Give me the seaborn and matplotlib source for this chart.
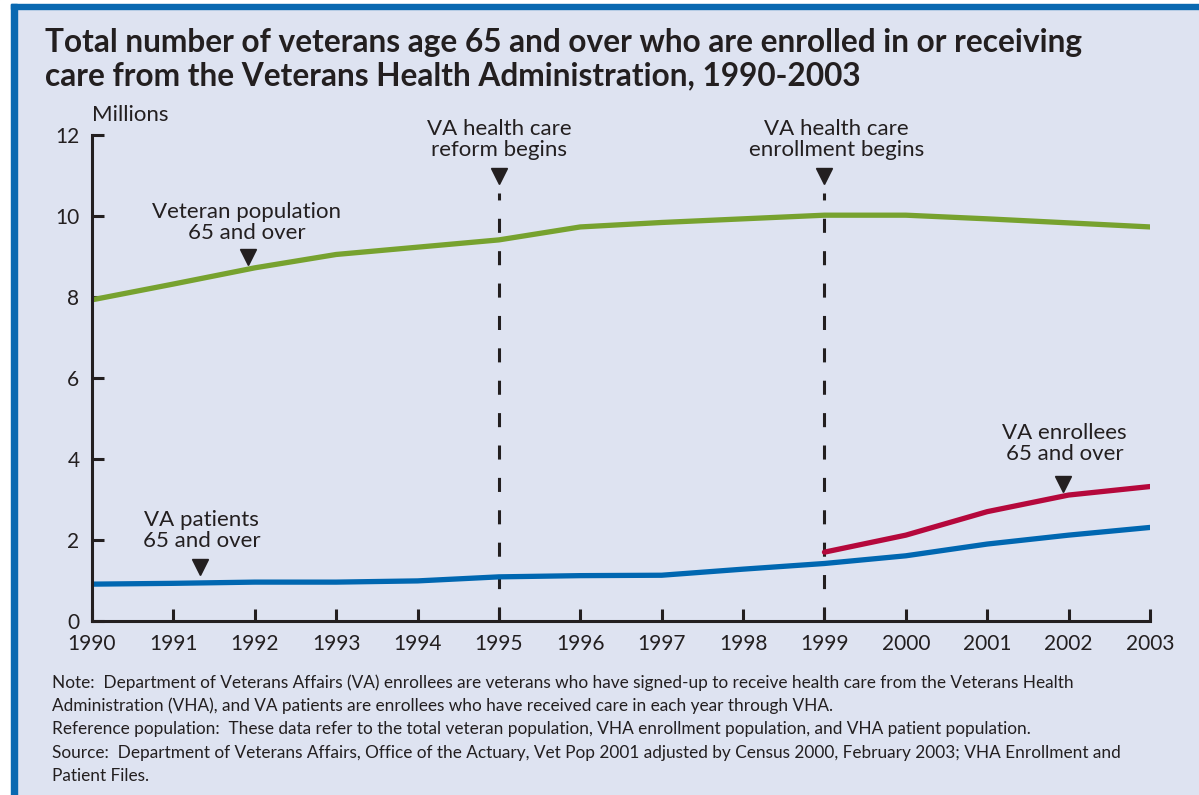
import pandas as pd
import matplotlib.pyplot as plt
from matplotlib.patches import Rectangle
import seaborn as sns

years = [1990, 1991, 1992, 1993, 1994, 1995, 1996, 1997, 1998, 1999, 2000, 2001, 2002, 2003]
veteran_pop = [7.93, 8.32, 8.72, 9.05, 9.23, 9.41, 9.73, 9.84, 9.93, 10.02, 10.02, 9.93, 9.83, 9.73]
va_patients = [0.91, 0.93, 0.96, 0.96, 0.99, 1.09, 1.12, 1.13, 1.28, 1.42, 1.61, 1.90, 2.12, 2.31]
enroll_years = [1999, 2000, 2001, 2002, 2003]
va_enrollees = [1.70, 2.12, 2.70, 3.11, 3.32]
y_ticks = [0, 2, 4, 6, 8, 10, 12]

title = ('Total number of veterans age 65 and over who are enrolled in or receiving\n'
         'care from the Veterans Health Administration, 1990-2003')
notes = [
    'Note:  Department of Veterans Affairs (VA) enrollees are veterans who have signed-up to receive health care from the Veterans Health',
    'Administration (VHA), and VA patients are enrollees who have received care in each year through VHA.',
    'Reference population:  These data refer to the total veteran population, VHA enrollment population, and VHA patient population.',
    'Source:  Department of Veterans Affairs, Office of the Actuary, Vet Pop 2001 adjusted by Census 2000, February 2003; VHA Enrollment and',
    'Patient Files.',
]

BG = '#dee3f1'
INK = '#231f20'
GREEN = '#77a22f'
BLUE = '#0067b1'
RED = '#b5083c'
LBL = 16

sns.set_style('ticks')
plt.rcParams['font.family'] = ['Lato', 'DejaVu Sans']
plt.rcParams['text.color'] = INK

fig = plt.figure(figsize=(11.99, 7.95), dpi=100, facecolor=BG)
W, H = 1199, 795
# frame: white margin, blue band on left and top
fig.patches.append(Rectangle((0, 0), 11 / W, 1, transform=fig.transFigure, color='white', zorder=0))
fig.patches.append(Rectangle((0, 1 - 4 / H), 1, 4 / H, transform=fig.transFigure, color='white', zorder=0))
fig.patches.append(Rectangle((11 / W, 0), 6 / W, 1 - 4 / H, transform=fig.transFigure, color='#0a69b1', zorder=1))
fig.patches.append(Rectangle((11 / W, 1 - 9 / H), 1, 5 / H, transform=fig.transFigure, color='#0a69b1', zorder=1))

ax = fig.add_axes([92 / W, 1 - 621 / H, (1150 - 92) / W, (621 - 135) / H])
ax.set_facecolor(BG)

df = pd.DataFrame({'year': years, 'veterans': veteran_pop, 'patients': va_patients})
enr = pd.DataFrame({'year': enroll_years, 'enrollees': va_enrollees})

sns.lineplot(data=df, x='year', y='veterans', color=GREEN, linewidth=3.8, ax=ax)
sns.lineplot(data=df, x='year', y='patients', color=BLUE, linewidth=3.8, ax=ax)
sns.lineplot(data=enr, x='year', y='enrollees', color=RED, linewidth=3.8, ax=ax)

# policy markers
for yr in [1995, 1999]:
    ax.plot([yr, yr], [0, 10.57], color=INK, lw=2.2, linestyle=(0, (4.6, 6.0)), zorder=1)
    ax.plot(yr, 10.99, marker='v', color=INK, markersize=12, clip_on=False)

ax.text(1995, 11.88, 'VA health care\nreform begins', ha='center', va='center', fontsize=LBL, linespacing=1.05)
ax.text(1999.15, 11.88, 'VA health care\nenrollment begins', ha='center', va='center', fontsize=LBL, linespacing=1.05)

ax.text(1991.9, 9.84, 'Veteran population\n65 and over', ha='center', va='center', fontsize=LBL, linespacing=1.05)
ax.plot(1991.92, 8.99, marker='v', color=INK, markersize=12)
ax.text(1991.35, 2.23, 'VA patients\n65 and over', ha='center', va='center', fontsize=LBL, linespacing=1.05)
ax.plot(1991.33, 1.33, marker='v', color=INK, markersize=12)
ax.text(2001.95, 4.39, 'VA enrollees\n65 and over', ha='center', va='center', fontsize=LBL, linespacing=1.05)
ax.plot(2001.93, 3.38, marker='v', color=INK, markersize=12)

ax.text(1990, 12.5, 'Millions', ha='left', va='center', fontsize=LBL, clip_on=False)

ax.set_xlim(1990, 2003)
ax.set_ylim(0, 12)
ax.set_xticks(years)
ax.set_yticks(y_ticks)
ax.set_xlabel('')
ax.set_ylabel('')
ax.tick_params(direction='in', length=8.6, width=2.2, color=INK, labelcolor=INK, labelsize=15)
ax.tick_params(axis='y', pad=9)
ax.tick_params(axis='x', pad=9)
sns.despine(ax=ax)
for side in ['left', 'bottom']:
    ax.spines[side].set_linewidth(2.2)
    ax.spines[side].set_color(INK)

fig.text(45 / W, 1 - 59.5 / H, title, ha='left', va='center', fontsize=22.8, fontweight='bold', linespacing=1.17)

for i, line in enumerate(notes):
    fig.text(52 / W, 1 - (683 + 23.2 * i) / H, line, ha='left', va='center', fontsize=12.4)

fig.savefig('out.png', dpi=100, facecolor=BG)
